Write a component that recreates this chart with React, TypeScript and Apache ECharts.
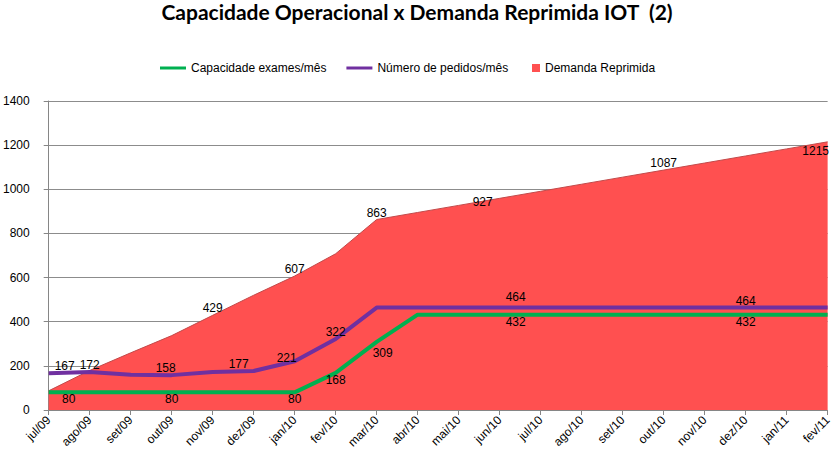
import React, { useEffect, useRef } from "react";
import * as echarts from "echarts";

const categories = [
  "jul/09", "ago/09", "set/09", "out/09", "nov/09", "dez/09", "jan/10", "fev/10",
  "mar/10", "abr/10", "mai/10", "jun/10", "jul/10", "ago/10", "set/10", "out/10",
  "nov/10", "dez/10", "jan/11", "fev/11",
];
const capacidade = [80, 80, 80, 80, 80, 80, 80, 168, 309, 432, 432, 432, 432, 432, 432, 432, 432, 432, 432, 432];
const pedidos = [167, 172, 160, 158, 172, 177, 221, 322, 464, 464, 464, 464, 464, 464, 464, 464, 464, 464, 464, 464];
const demanda = [87, 179, 259, 337, 429, 520, 607, 708, 863, 895, 927, 959, 991, 1023, 1055, 1087, 1119, 1151, 1183, 1215];

const capacidadeLabeled = [0, 3, 6, 7, 8, 11, 17];
const pedidosLabeled = [0, 1, 3, 5, 6, 7, 11, 17];
const demandaLabeled = [4, 6, 8, 10, 15, 19];

const yTicks = [0, 200, 400, 600, 800, 1000, 1200, 1400];

const FONT = "'Liberation Sans', Arial, sans-serif";

function withLabels(values: number[], labeled: number[], pos: string, extra: Record<number, any> = {}) {
  return values.map((v, i) => {
    if (!labeled.includes(i)) return { value: v, label: { show: false } };
    return {
      value: v,
      label: { show: true, position: pos, distance: 1, ...(extra[i] || {}) },
    };
  });
}

export default function App() {
  const ref = useRef<HTMLDivElement>(null);
  useEffect(() => {
    if (!ref.current) return;
    const chart = echarts.init(ref.current, undefined, { renderer: "svg" });
    const labelStyle = { color: "#000", fontSize: 12, fontFamily: FONT };
    const legendText = { fontFamily: FONT, fontSize: 12, color: "#000" };
    chart.setOption({
      animation: false,
      backgroundColor: "#fff",
      title: {
        text: "Capacidade Operacional x Demanda Reprimida IOT  (2)",
        left: "center",
        top: -4,
        textStyle: { fontFamily: "Lato, 'Open Sans', sans-serif", fontWeight: "bold", fontSize: 21, color: "#000" },
      },
      legend: [
        {
          top: 57,
          left: 155,
          itemWidth: 26,
          itemHeight: 9,
          itemGap: 20,
          textStyle: legendText,
          data: [
            { name: "Capacidade exames/mês", icon: "path://M0,0H26V3H0Z" },
            { name: "Número de pedidos/mês", icon: "path://M0,0H26V3H0Z" },
          ],
        },
        {
          top: 57,
          left: 527,
          itemWidth: 8,
          itemHeight: 8,
          textStyle: legendText,
          data: [{ name: "Demanda Reprimida", icon: "rect" }],
        },
      ],
      grid: { left: 48, right: 4, top: 101, bottom: 58 },
      xAxis: {
        type: "category",
        data: categories,
        boundaryGap: false,
        axisLine: { lineStyle: { color: "#868686" } },
        axisTick: { show: true, length: 5, lineStyle: { color: "#868686" } },
        axisLabel: { rotate: 45, interval: 0, margin: 8, fontFamily: FONT, fontSize: 12, color: "#000" },
      },
      yAxis: {
        type: "value",
        min: yTicks[0],
        max: yTicks[yTicks.length - 1],
        interval: 200,
        axisLine: { show: true, lineStyle: { color: "#868686" } },
        axisTick: { show: true, length: 5, lineStyle: { color: "#868686" } },
        axisLabel: {
          margin: 19,
          fontFamily: FONT,
          fontSize: 12,
          color: "#000",
          formatter: (v: number) => String(v),
        },
        splitLine: { lineStyle: { color: "#8c8c8c", width: 1 } },
      },
      series: [
        {
          name: "Demanda Reprimida",
          type: "line",
          z: 1,
          symbol: "circle",
          symbolSize: 0,
          showSymbol: true,
          data: withLabels(demanda, demandaLabeled, "top", {
            10: { offset: [24, 4] },
            19: { offset: [-12, 16] },
          }),
          lineStyle: { color: "#c24a4a", width: 1 },
          itemStyle: { color: "#FF5050" },
          areaStyle: { color: "#FF5050", opacity: 1 },
          label: labelStyle,
        },
        {
          name: "Capacidade exames/mês",
          type: "line",
          z: 3,
          symbol: "circle",
          symbolSize: 0,
          showSymbol: true,
          data: withLabels(capacidade, capacidadeLabeled, "bottom", {
            0: { offset: [20, 0] },
            8: { offset: [6, 4] },
            11: { offset: [16, 0] },
          }),
          lineStyle: { color: "#00B050", width: 4 },
          itemStyle: { color: "#00B050" },
          label: labelStyle,
        },
        {
          name: "Número de pedidos/mês",
          type: "line",
          z: 3,
          symbol: "circle",
          symbolSize: 0,
          showSymbol: true,
          data: withLabels(pedidos, pedidosLabeled, "top", {
            0: { offset: [16, 0] },
            3: { offset: [-6, 0] },
            5: { offset: [-15, 0] },
            6: { offset: [-8, 4] },
            11: { offset: [16, -4] },
          }),
          lineStyle: { color: "#7030A0", width: 4 },
          itemStyle: { color: "#7030A0" },
          label: labelStyle,
        },
      ],
    });
    return () => chart.dispose();
  }, []);
  return <div ref={ref} style={{ width: 834, height: 468, position: "absolute", left: 0, top: 0 }} />;
}
